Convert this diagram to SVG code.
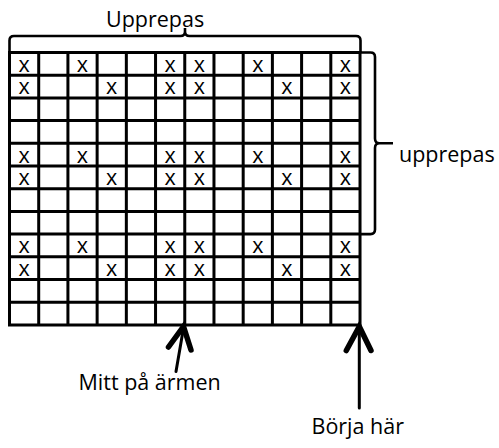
<svg xmlns="http://www.w3.org/2000/svg" width="499" height="448" viewBox="0 0 499 448">
<style>
.t{font-family:"Open Sans","Noto Sans","DejaVu Sans",sans-serif;font-size:21.5px;fill:#000}
.x{font-family:"Open Sans","Noto Sans","DejaVu Sans",sans-serif;font-size:21.5px;fill:#000;text-anchor:middle}
.g{stroke:#000;stroke-width:3;fill:none;stroke-linecap:square}
.b{stroke:#000;stroke-width:2.6;fill:none}
.sh{stroke:#000;stroke-width:3;fill:none;stroke-linecap:round}
.hd{stroke:#000;stroke-width:5.5;fill:none;stroke-linecap:round;stroke-linejoin:miter}
</style>
<defs>
<g id="rowA">
<text class="x" x="24.1">x</text><text class="x" x="82.5">x</text><text class="x" x="170.2">x</text><text class="x" x="199.4">x</text><text class="x" x="257.8">x</text><text class="x" x="345.4">x</text>
</g>
<g id="rowB">
<text class="x" x="24.1">x</text><text class="x" x="111.7">x</text><text class="x" x="170.2">x</text><text class="x" x="199.4">x</text><text class="x" x="287">x</text><text class="x" x="345.4">x</text>
</g>
</defs>
<g id="grid">
<path class="g" d="M9.5 52.5V324.9M38.71 52.5V324.9M67.92 52.5V324.9M97.13 52.5V324.9M126.34 52.5V324.9M155.55 52.5V324.9M184.76 52.5V324.9M213.97 52.5V324.9M243.18 52.5V324.9M272.39 52.5V324.9M301.6 52.5V324.9M330.81 52.5V324.9M360.02 52.5V324.9
M9.5 52.5H360.02M9.5 75.2H360.02M9.5 97.9H360.02M9.5 120.6H360.02M9.5 143.3H360.02M9.5 166H360.02M9.5 188.7H360.02M9.5 211.4H360.02M9.5 234.1H360.02M9.5 256.8H360.02M9.5 279.5H360.02M9.5 302.2H360.02M9.5 324.9H360.02"/>
</g>
<g id="marks">
<use href="#rowA" y="71.7"/>
<use href="#rowB" y="94.4"/>
<use href="#rowA" y="162.5"/>
<use href="#rowB" y="185.2"/>
<use href="#rowA" y="253.3"/>
<use href="#rowB" y="276"/>
</g>
<g id="brace-top">
<path class="b" d="M9.5 52V40.5Q9.5 36 14 36H180.5Q185 36 185 31.5V28M185 31.5Q185 36 189.5 36H356Q360.5 36 360.5 40.5V52"/>
</g>
<g id="brace-right">
<path class="b" d="M361 52.5H370.5Q375 52.5 375 57V138.5Q375 143.3 379.5 143.3H393M379.5 143.3Q375 143.3 375 148V229.6Q375 234.1 370.5 234.1H361"/>
</g>
<g id="connectors">
<path class="sh" d="M183.5 328L176 371.5"/>
<path class="hd" d="M168.5 347L183.5 326.5L191 350"/>
<path class="sh" d="M359.3 328V408"/>
<path class="hd" d="M346.3 350.5L359.3 326.5L371 350.5"/>
</g>
<g id="labels">
<text class="t" x="106" y="26.7">Upprepas</text>
<text class="t" x="399" y="162.3">upprepas</text>
<text class="t" x="78.5" y="390">Mitt på ärmen</text>
<text class="t" x="311.5" y="434.3">Börja här</text>
</g>
</svg>
